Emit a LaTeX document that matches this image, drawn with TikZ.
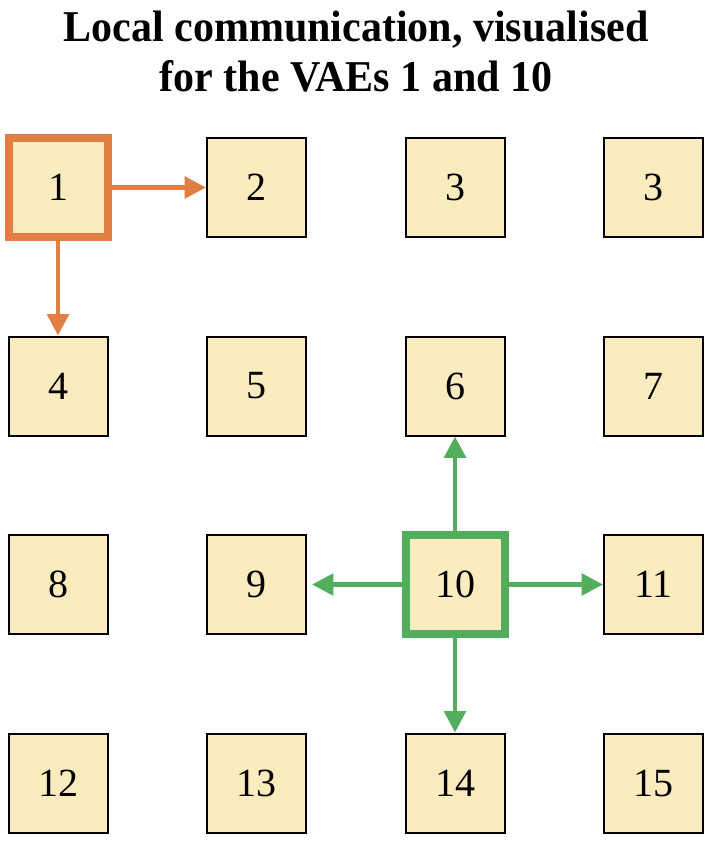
\documentclass[tikz,border=0pt]{standalone}
\usepackage{fontspec}
\setmainfont{Liberation Serif}
\usetikzlibrary{arrows.meta}
\definecolor{vaefill}{HTML}{FBECC0}
\definecolor{vaeorange}{HTML}{E07F41}
\definecolor{vaegreen}{HTML}{52AD5C}
\tikzset{vae/.style={draw,line width=1.5pt,fill=vaefill,minimum size=74.25pt,inner sep=0pt,
font=\fontsize{30}{30}\selectfont},
comm/.style={line width=3.3pt,-{Triangle[length=16pt,width=16pt]}}}

\begin{document}
\begin{tikzpicture}[x=0.75pt,y=-0.75pt]
\useasboundingbox (0,0) rectangle (714,846);
\node[font=\bfseries\fontsize{33}{37.5}\selectfont,align=center,anchor=north,inner sep=0pt] (T) at (356,11)
{\scalebox{0.955}[1]{Local communication, visualised}\\\scalebox{0.955}[1]{for the VAEs 1 and 10}};

\node[vae,line width=6pt,draw=vaeorange] (v1) at (58,187.5) {1};
\node[vae] (v2) at (256.5,187.5) {2};\node[vae] (v3) at (455,187.5) {3};\node[vae] (v3b) at (653.5,187.5) {3};
\node[vae] (v4) at (58,386) {4};\node[vae] (v5) at (256.5,386) {5};
\node[vae] (v6) at (455,386) {6};\node[vae] (v7) at (653.5,386) {7};
\node[vae] (v8) at (58,584.5) {8};\node[vae] (v9) at (256.5,584.5) {9};
\node[vae,line width=6pt,draw=vaegreen] (v10) at (455,584.5) {10};\node[vae] (v11) at (653.5,584.5) {11};
\node[vae] (v12) at (58,783) {12};\node[vae] (v13) at (256.5,783) {13};
\node[vae] (v14) at (455,783) {14};\node[vae] (v15) at (653.5,783) {15};

\draw[comm,vaeorange](v1.east)--(v2.west);
\draw[comm,vaeorange](v1.south)--(v4.north);
\draw[comm,vaegreen](v10.north)--(v6.south);
\draw[comm,vaegreen](v10.east)--(v11.west);
\draw[comm,vaegreen](v10.south)--(v14.north);
\draw[comm,vaegreen,shorten >=3.75pt](v10.west)--(v9.east);
\end{tikzpicture}
\end{document}
